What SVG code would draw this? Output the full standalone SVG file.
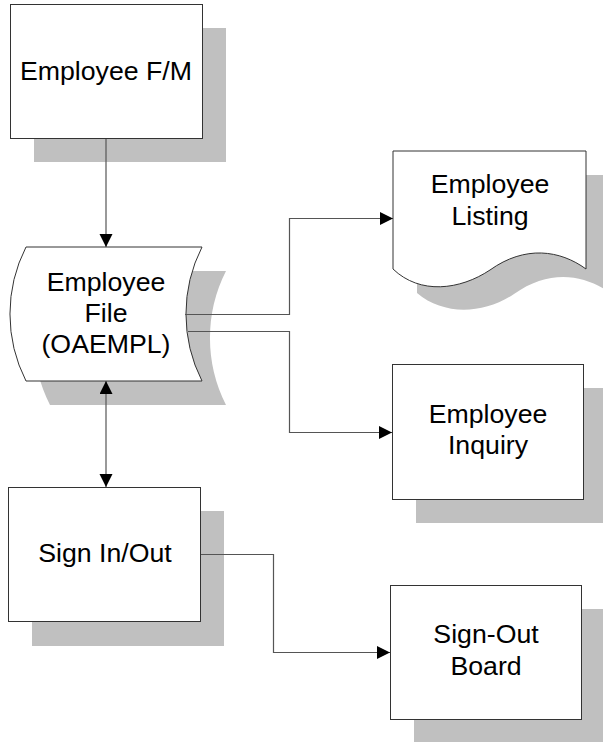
<svg xmlns="http://www.w3.org/2000/svg" width="603" height="742" viewBox="0 0 603 742">
<style>
.shadow{fill:#c0c0c0;stroke:none}
.box{fill:#fff;stroke:#333;stroke-width:1}
.lbl{font-family:"Liberation Sans",Arial,sans-serif;font-size:26.7px;fill:#000;text-anchor:middle}
.conn{fill:none;stroke:#555;stroke-width:1.2}
</style>
<defs>
<marker id="arr" markerUnits="userSpaceOnUse" markerWidth="14" markerHeight="14" refX="13" refY="6.5" orient="auto-start-reverse">
<path d="M0,0 L13,6.5 L0,13 Z" fill="#000"/>
</marker>
</defs>
<rect width="603" height="742" fill="#fff"/>
<g id="node-employee-fm">
<rect class="shadow" x="34" y="28" width="192" height="134"/>
<rect class="box" x="10.5" y="4.5" width="192" height="134"/>
<text class="lbl" x="106" y="80">Employee F/M</text>
</g>
<g id="node-employee-file">
<path class="shadow" d="M50,271 L226,271 A148,148 0 0 0 226,405 L50,405 A148,148 0 0 1 50,271 Z"/>
<path class="box" d="M26,247 L202,247 A148,148 0 0 0 202,381 L26,381 A148,148 0 0 1 26,247 Z"/>
<text class="lbl" x="106" y="291">Employee</text>
<text class="lbl" x="106" y="322">File</text>
<text class="lbl" x="106" y="353">(OAEMPL)</text>
</g>
<g id="node-employee-listing">
<path class="shadow" d="M417,175 L610,175 L610,293 C584,274 549,269 514,294 C484,314 444,316 417,293 Z"/>
<path class="box" d="M393,151 L586,151 L586,269 C560,250 525,245 490,270 C460,290 420,295 393,269 Z"/>
<text class="lbl" x="490" y="193">Employee</text>
<text class="lbl" x="490" y="225">Listing</text>
</g>
<g id="node-employee-inquiry">
<rect class="shadow" x="416" y="388" width="191" height="135"/>
<rect class="box" x="392.5" y="364.5" width="191" height="135"/>
<text class="lbl" x="488" y="423">Employee</text>
<text class="lbl" x="488" y="454">Inquiry</text>
</g>
<g id="node-sign-in-out">
<rect class="shadow" x="32" y="511" width="192" height="135"/>
<rect class="box" x="8.5" y="487.5" width="192" height="134"/>
<text class="lbl" x="105" y="562">Sign In/Out</text>
</g>
<g id="node-sign-out-board">
<rect class="shadow" x="414" y="609" width="191" height="135"/>
<rect class="box" x="390.5" y="585.5" width="191" height="134"/>
<text class="lbl" x="486" y="643">Sign-Out</text>
<text class="lbl" x="486" y="675">Board</text>
</g>
<g id="connectors">
<path class="conn" d="M106,139 L106,247" marker-end="url(#arr)"/>
<path class="conn" d="M106,381 L106,487" marker-start="url(#arr)" marker-end="url(#arr)"/>
<path class="conn" d="M185,314.5 L289.5,314.5 L289.5,218.5 L393,218.5" marker-end="url(#arr)"/>
<path class="conn" d="M188,331.5 L289.5,331.5 L289.5,432.5 L392,432.5" marker-end="url(#arr)"/>
<path class="conn" d="M201,554.5 L273.5,554.5 L273.5,652.5 L390,652.5" marker-end="url(#arr)"/>
</g>
</svg>
